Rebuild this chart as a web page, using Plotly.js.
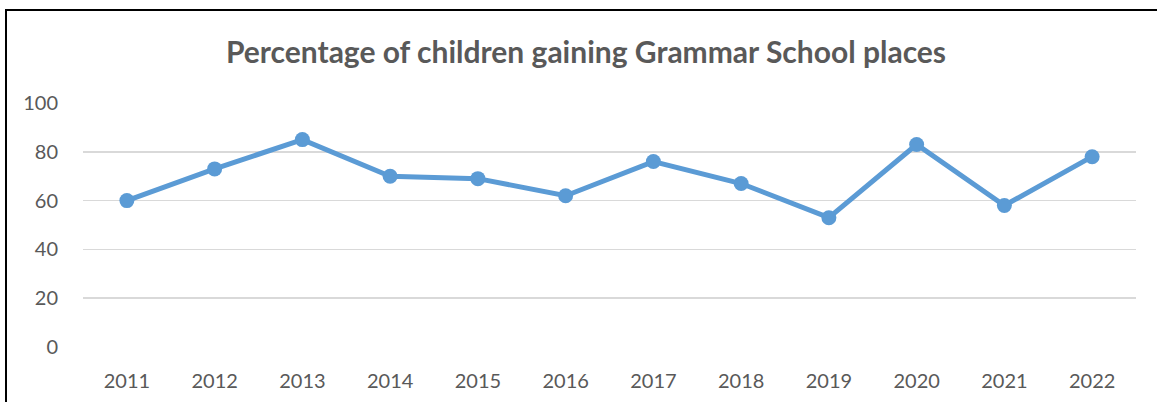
<!DOCTYPE html>
<html>
<head>
<meta charset="utf-8">
<script src="https://cdn.plot.ly/plotly-3.0.1.min.js"></script>
<style>
  html, body { margin: 0; padding: 0; background: #fff; }
  #wrap { position: relative; width: 1157px; height: 402px; overflow: hidden; }
  #chart { position: absolute; left: 0; top: 0; width: 1157px; height: 402px; }
  #frame { position: absolute; left: 5px; top: 9px; width: 1200px; height: 500px;
           border-left: 2px solid #000; border-top: 2px solid #000; pointer-events: none; }
</style>
</head>
<body>
<div id="wrap">
  <div id="chart"></div>
  <div id="frame"></div>
</div>
<script>
const titleText = "Percentage of children gaining Grammar School places";
const years = ["2011","2012","2013","2014","2015","2016","2017","2018","2019","2020","2021","2022"];
const percentages = [60, 73, 85, 70, 69, 62, 76, 67, 53, 83, 58, 78];
const yTicks = [0, 20, 40, 60, 80, 100];

const lineColor = "#5B9BD5";
const textColor = "#595959";
const fontFamily = "Lato, 'Open Sans', sans-serif";

const trace = {
  type: "scatter",
  mode: "lines+markers",
  x: years,
  y: percentages,
  line: { color: lineColor, width: 5 },
  marker: { color: lineColor, size: 15 },
  hoverinfo: "x+y"
};

const layout = {
  width: 1157,
  height: 402,
  margin: { l: 83, r: 21, t: 103, b: 55, pad: 0 },
  paper_bgcolor: "#ffffff",
  plot_bgcolor: "#ffffff",
  showlegend: false,
  font: { family: fontFamily, color: textColor },
  title: {
    text: titleText,
    font: { family: fontFamily, size: 30, color: textColor, weight: "bold" },
    xref: "container", x: 586 / 1157, xanchor: "center",
    yref: "container", y: 1 - 52 / 402, yanchor: "middle"
  },
  xaxis: {
    type: "category",
    range: [-0.5, years.length - 0.5],
    showgrid: false,
    showline: false,
    zeroline: false,
    ticks: "outside",
    ticklen: 16,
    tickcolor: "rgba(0,0,0,0)",
    tickfont: { family: fontFamily, size: 20, color: textColor }
  },
  yaxis: {
    range: [0, 100],
    tickvals: yTicks,
    ticktext: yTicks.map(String),
    showgrid: true,
    gridcolor: "#d9d9d9",
    gridwidth: 1.5,
    zeroline: false,
    showline: false,
    ticks: "outside",
    ticklen: 20,
    tickcolor: "rgba(0,0,0,0)",
    tickfont: { family: fontFamily, size: 20, color: textColor }
  }
};

Plotly.newPlot("chart", [trace], layout, { displayModeBar: false, staticPlot: true });
</script>
</body>
</html>
